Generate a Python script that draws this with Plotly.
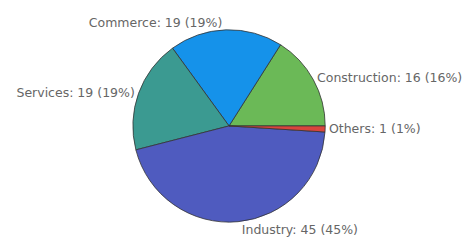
import plotly.graph_objects as go

labels = ["Construction", "Commerce", "Services", "Industry", "Others"]
values = [16, 19, 19, 45, 1]
colors = ["#6bb957", "#1592ea", "#3b9a91", "#4f5bbf", "#d9453d"]

W, H = 467, 242
cx, cy, r = 231, 127, 97

fig = go.Figure(go.Pie(
    labels=labels,
    values=values,
    sort=False,
    direction="counterclockwise",
    rotation=32.4,
    marker=dict(colors=colors, line=dict(color="#333333", width=0.8)),
    textposition="outside",
    texttemplate="%{label}: %{value} (%{percent})",
    textfont=dict(family="DejaVu Sans", size=12.5, color="#666666"),
    domain=dict(x=[(cx - r) / W, (cx + r) / W], y=[1 - (cy + r) / H, 1 - (cy - r) / H]),
    showlegend=False,
    hoverinfo="label+value+percent",
))
fig.update_layout(
    width=W, height=H,
    margin=dict(l=0, r=0, t=0, b=0),
    paper_bgcolor="white",
    plot_bgcolor="white",
)
fig.write_html("out.html", config={"displayModeBar": False},
               post_script="document.body.style.margin='0';")
